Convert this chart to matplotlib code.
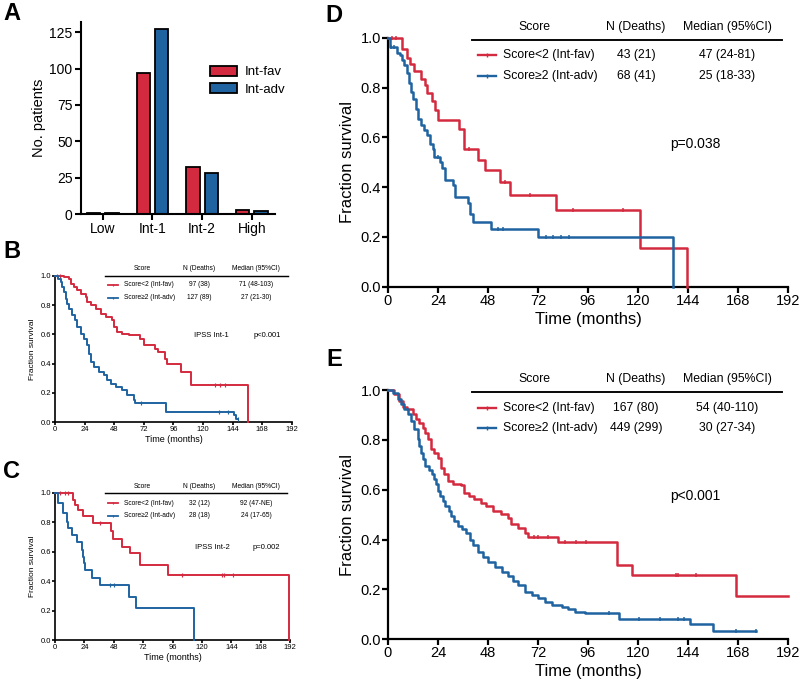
import numpy as np
import matplotlib
matplotlib.use("Agg")
import matplotlib.pyplot as plt
from matplotlib.patches import Patch

plt.rcParams["font.family"] = ["Liberation Sans", "DejaVu Sans"]

RED = "#d42a3f"
BLUE = "#1f63a0"

# ---- panel A: patients per IPSS group
risk_groups = ["Low", "Int-1", "Int-2", "High"]
n_fav = [1, 97, 32, 3]
n_adv = [1, 127, 28, 2]

# ---- panel B: IPSS Int-1
b_fav_t = [0, 7.3, 11.3, 12.7, 15.4, 18.1, 20.8, 24.8, 26.2, 28.9, 32.9, 36.9, 41, 46.4, 47.7,
           50.4, 54.5, 59.9, 69.3, 72, 81.4, 83.3, 89, 90.5, 102.5, 110.6, 156.4]
b_fav_s = [1.0, 0.99, 0.98, 0.945, 0.923, 0.90, 0.877, 0.855, 0.82, 0.798, 0.775, 0.74, 0.718, 0.695,
           0.65, 0.616, 0.605, 0.593, 0.57, 0.525, 0.502, 0.48, 0.43, 0.395, 0.345, 0.255, 0.0]
b_fav_cens = [2, 4, 130, 134, 138]
b_adv_t = [0, 2.4, 4.6, 5.9, 7.3, 8.6, 10, 11.3, 14, 15.9, 18.1, 20.8, 23.5, 25.6, 27.5, 28.9, 31.6,
           35.6, 39.6, 42.3, 45, 49.1, 54.5, 58.5, 63.9, 64.7, 89.8, 145, 147]
b_adv_s = [1.0, 0.977, 0.955, 0.92, 0.889, 0.843, 0.809, 0.775, 0.73, 0.695, 0.65, 0.605, 0.57, 0.525,
           0.468, 0.411, 0.377, 0.343, 0.32, 0.286, 0.264, 0.241, 0.218, 0.184, 0.15, 0.135, 0.073,
           0.05, 0.025]
b_adv_cens = [70, 133, 140, 148]

# ---- panel C: IPSS Int-2
c_fav_t = [0, 15, 16.3, 19, 23, 31, 46, 47.7, 54.5, 61, 69.5, 92.6, 191]
c_fav_s = [1.0, 0.95, 0.916, 0.88, 0.84, 0.794, 0.74, 0.688, 0.63, 0.588, 0.507, 0.44, 0.0]
c_fav_cens = [4, 8, 11, 37, 104, 136, 138, 145]
c_adv_t = [0, 2.7, 6.8, 9.5, 10.9, 13.6, 17.7, 21.8, 23.1, 23.6, 24.5, 30, 36.8, 60, 66.2, 113.6]
c_adv_s = [1.0, 0.93, 0.86, 0.80, 0.76, 0.71, 0.665, 0.61, 0.565, 0.52, 0.475, 0.42, 0.373, 0.294,
           0.22, 0.0]
c_adv_cens = [45, 48]

# ---- panel D
d_fav_t = [0, 6.6, 9, 10.6, 12.6, 15.8, 17.8, 18.6, 21, 22.6, 24.2, 34, 36.5, 43, 46.5, 53.8, 58.6,
           80.5, 121, 143.5]
d_fav_s = [1.0, 0.956, 0.92, 0.894, 0.865, 0.836, 0.81, 0.777, 0.744, 0.71, 0.67, 0.634, 0.555, 0.51,
           0.47, 0.42, 0.367, 0.307, 0.154, 0.0]
d_fav_cens = [2, 4, 39, 56, 68, 89, 113]
d_adv_t = [0, 1, 4.2, 5.8, 6.6, 7.7, 9, 10, 11, 12.2, 13.3, 14.6, 15.8, 17.4, 18.6, 20.2, 21.4, 22.2,
           25, 26, 27.4, 31, 32, 38.6, 39.4, 41, 49.4, 72, 136.8]
d_adv_s = [1.0, 0.963, 0.94, 0.929, 0.909, 0.89, 0.86, 0.82, 0.78, 0.755, 0.715, 0.673, 0.65, 0.63,
           0.61, 0.575, 0.555, 0.52, 0.50, 0.475, 0.43, 0.41, 0.36, 0.335, 0.29, 0.26, 0.23, 0.2, 0.0]
d_adv_cens = [1.5, 3, 24, 53, 55, 76, 79, 83, 87]

# ---- panel E: all intermediate
e_fav_t = [0, 3, 5.4, 7, 9, 11.8, 13.4, 15, 16.6, 17.9, 19, 20.6, 22.2, 23.8, 25.4, 27, 28.6, 31, 35,
           36.6, 39, 41.4, 44.6, 47, 50.2, 54.2, 57.4, 59, 62.6, 65.8, 67.4, 81.8, 109.8, 117.3, 167]
e_fav_s = [1.0, 0.983, 0.957, 0.933, 0.922, 0.902, 0.882, 0.869, 0.849, 0.829, 0.802, 0.762, 0.749,
           0.729, 0.689, 0.662, 0.635, 0.622, 0.618, 0.588, 0.575, 0.561, 0.548, 0.535, 0.515, 0.501,
           0.488, 0.461, 0.445, 0.425, 0.41, 0.39, 0.30, 0.26, 0.173]
e_fav_cens = [70, 72, 77, 85, 90, 95, 138, 139, 148]
e_adv_t = [0, 2.2, 4.6, 6.2, 7.8, 9.4, 11, 12.6, 14.2, 15, 15.8, 16.6, 17.9, 19.5, 21.1, 22.2, 23,
           23.8, 25, 26.2, 27.5, 29.1, 30.2, 31.8, 33.4, 35.5, 37.4, 39.4, 41, 43.4, 45.8, 48.2, 51.4,
           54.6, 57.8, 60.2, 62.6, 65.8, 69, 72.2, 75.4, 78.6, 83.4, 86.6, 89.8, 94.6, 99.4, 110.9,
           145, 156]
e_adv_s = [1.0, 0.99, 0.963, 0.943, 0.922, 0.902, 0.876, 0.842, 0.802, 0.775, 0.749, 0.722, 0.695,
           0.679, 0.662, 0.642, 0.622, 0.595, 0.575, 0.555, 0.535, 0.515, 0.495, 0.475, 0.455, 0.441,
           0.428, 0.399, 0.379, 0.352, 0.332, 0.312, 0.292, 0.272, 0.252, 0.232, 0.218, 0.191, 0.178,
           0.164, 0.151, 0.138, 0.131, 0.121, 0.111, 0.107, 0.104, 0.08, 0.061, 0.033]
e_adv_cens = [106, 120.5, 130.6, 139, 142, 167, 176.5]


def km(ax, t, s, end, cens, color, lw, ms):
    tt = list(t) + [end]
    ss = list(s) + [s[-1]]
    ax.step(tt, ss, where="post", color=color, lw=lw, clip_on=False, zorder=3)
    idx = np.searchsorted(t, cens, side="right") - 1
    ax.plot(cens, np.array(s)[idx], ls="none", marker="|", ms=ms, mew=lw * 0.6,
            color=color, clip_on=False, zorder=3)


def style_km(ax, fs, lw, tl):
    ax.set_xlim(0, 192)
    ax.set_ylim(0, 1.0)
    ax.set_xticks(np.arange(0, 193, 24))
    ax.set_yticks(np.arange(0, 1.01, 0.2))
    ax.set_yticklabels(["%.1f" % v for v in np.arange(0, 1.01, 0.2)])
    for sp in ["top", "right"]:
        ax.spines[sp].set_visible(False)
    for sp in ["left", "bottom"]:
        ax.spines[sp].set_linewidth(lw)
    ax.tick_params(labelsize=fs, width=lw, length=tl, pad=1)


def km_table(ax, rows, fs, lw, xs, hy, ly, r1, r2, leg):
    tr = ax.transAxes
    ax.text(xs[0], hy, "Score", transform=tr, ha="center", va="center", fontsize=fs)
    ax.text(xs[1], hy, "N (Deaths)", transform=tr, ha="center", va="center", fontsize=fs)
    ax.text(xs[2], hy, "Median (95%CI)", transform=tr, ha="center", va="center", fontsize=fs)
    ax.plot([leg[3], 0.985], [ly, ly], transform=tr, color="black", lw=lw * 0.8, clip_on=False)
    for y, (lab, n, med, col) in zip([r1, r2], rows):
        ax.plot([leg[0], leg[1]], [y, y], transform=tr, color=col, lw=lw, clip_on=False)
        ax.plot([(leg[0] + leg[1]) / 2], [y], transform=tr, marker="|", ms=fs * 0.35,
                color=col, mew=lw * 0.6, clip_on=False)
        ax.text(leg[2], y, lab, transform=tr, ha="left", va="center", fontsize=fs)
        ax.text(xs[1], y, n, transform=tr, ha="center", va="center", fontsize=fs)
        ax.text(xs[2], y, med, transform=tr, ha="center", va="center", fontsize=fs)


fig = plt.figure(figsize=(8.0, 6.87), dpi=100)

# ---------------- A
axA = fig.add_axes([0.101, 0.6885, 0.2425, 0.2795])
x = np.arange(len(risk_groups))
w = 0.27
axA.bar(x - 0.185, n_fav, w, color=RED, edgecolor="black", lw=1.3, zorder=2)
axA.bar(x + 0.185, n_adv, w, color=BLUE, edgecolor="black", lw=1.3, zorder=2)
axA.set_xlim(-0.44, 3.46)
axA.set_ylim(0, 132)
axA.set_yticks([0, 25, 50, 75, 100, 125])
axA.set_xticks(x)
axA.set_xticklabels(risk_groups)
axA.set_ylabel("No. patients", fontsize=10.5, labelpad=2)
for sp in ["top", "right"]:
    axA.spines[sp].set_visible(False)
for sp in ["left", "bottom"]:
    axA.spines[sp].set_linewidth(1.5)
axA.tick_params(labelsize=10, width=1.5, length=4, pad=2)
axA.legend(handles=[Patch(facecolor=RED, edgecolor="black", lw=1.3, label="Int-fav"),
                    Patch(facecolor=BLUE, edgecolor="black", lw=1.3, label="Int-adv")],
           loc="upper left", bbox_to_anchor=(0.64, 0.80), frameon=False, fontsize=9.5,
           handlelength=2.0, handleheight=0.8, handletextpad=0.6, labelspacing=0.35,
           borderaxespad=0)

# ---------------- B
axB = fig.add_axes([0.06875, 0.3853, 0.296, 0.2134])
km(axB, b_fav_t, b_fav_s, b_fav_t[-1], b_fav_cens, RED, 1.4, 2.5)
km(axB, b_adv_t, b_adv_s, 148, b_adv_cens, BLUE, 1.4, 2.5)
style_km(axB, 5.5, 1.2, 2)
axB.set_xlabel("Time (months)", fontsize=6.5, labelpad=1)
axB.set_ylabel("Fraction survival", fontsize=6, labelpad=3)
km_table(axB, [("Score<2 (Int-fav)", "97 (38)", "71 (48-103)", RED),
               ("Score\u22652 (Int-adv)", "127 (89)", "27 (21-30)", BLUE)],
         4.8, 1.3, [0.367, 0.608, 0.848], 1.046, 1.0, 0.937, 0.848,
         [0.224, 0.266, 0.291, 0.211])
axB.text(0.662, 0.595, "IPSS Int-1", transform=axB.transAxes, ha="center", va="center", fontsize=5.5)
axB.text(0.895, 0.595, "p<0.001", transform=axB.transAxes, ha="center", va="center", fontsize=5.5)

# ---------------- C
axC = fig.add_axes([0.06875, 0.0684, 0.294, 0.2144])
km(axC, c_fav_t, c_fav_s, c_fav_t[-1], c_fav_cens, RED, 1.4, 2.5)
km(axC, c_adv_t, c_adv_s, c_adv_t[-1], c_adv_cens, BLUE, 1.4, 2.5)
style_km(axC, 5.5, 1.2, 2)
axC.set_xlabel("Time (months)", fontsize=6.5, labelpad=1)
axC.set_ylabel("Fraction survival", fontsize=6, labelpad=3)
km_table(axC, [("Score<2 (Int-fav)", "32 (12)", "92 (47-NE)", RED),
               ("Score\u22652 (Int-adv)", "28 (18)", "24 (17-65)", BLUE)],
         4.8, 1.3, [0.37, 0.613, 0.855], 1.039, 0.998, 0.93, 0.842,
         [0.226, 0.268, 0.293, 0.213])
axC.text(0.668, 0.625, "IPSS Int-2", transform=axC.transAxes, ha="center", va="center", fontsize=5.5)
axC.text(0.90, 0.625, "p=0.002", transform=axC.transAxes, ha="center", va="center", fontsize=5.5)

# ---------------- D
axD = fig.add_axes([0.485, 0.5827, 0.5, 0.3624])
km(axD, d_fav_t, d_fav_s, d_fav_t[-1], d_fav_cens, RED, 1.8, 3.5)
km(axD, d_adv_t, d_adv_s, d_adv_t[-1], d_adv_cens, BLUE, 1.8, 3.5)
style_km(axD, 10.5, 1.6, 4)
axD.set_xlabel("Time (months)", fontsize=12, labelpad=3)
axD.set_ylabel("Fraction survival", fontsize=12, labelpad=4)
km_table(axD, [("Score<2 (Int-fav)", "43 (21)", "47 (24-81)", RED),
               ("Score\u22652 (Int-adv)", "68 (41)", "25 (18-33)", BLUE)],
         8.8, 1.7, [0.365, 0.62, 0.848], 1.043, 0.991, 0.931, 0.846,
         [0.225, 0.27, 0.2875, 0.21])
axD.text(0.7675, 0.573, "p=0.038", transform=axD.transAxes, ha="center", va="center", fontsize=10)

# ---------------- E
axE = fig.add_axes([0.485, 0.0694, 0.5, 0.3629])
km(axE, e_fav_t, e_fav_s, 192, e_fav_cens, RED, 1.8, 3.5)
km(axE, e_adv_t, e_adv_s, 176.5, e_adv_cens, BLUE, 1.8, 3.5)
style_km(axE, 10.5, 1.6, 4)
axE.set_xlabel("Time (months)", fontsize=12, labelpad=3)
axE.set_ylabel("Fraction survival", fontsize=12, labelpad=4)
km_table(axE, [("Score<2 (Int-fav)", "167 (80)", "54 (40-110)", RED),
               ("Score\u22652 (Int-adv)", "449 (299)", "30 (27-34)", BLUE)],
         8.8, 1.7, [0.365, 0.62, 0.848], 1.044, 0.993, 0.929, 0.848,
         [0.225, 0.27, 0.2875, 0.21])
axE.text(0.7675, 0.575, "p<0.001", transform=axE.transAxes, ha="center", va="center", fontsize=10)

# panel letters
for lab, px, py in [("A", 12, 13), ("B", 12, 252), ("C", 12, 472), ("D", 334, 15), ("E", 334, 360)]:
    fig.text(px / 800, 1 - py / 687, lab, fontsize=17, fontweight="bold", ha="center", va="center")

fig.savefig("out.png", dpi=100)
